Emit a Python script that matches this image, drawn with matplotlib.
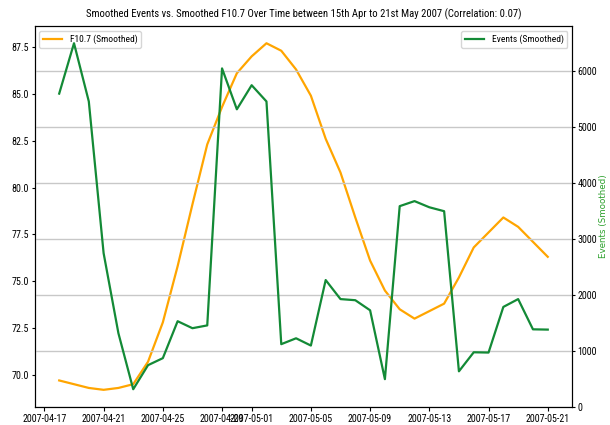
import pandas as pd
import numpy as np
import matplotlib.pyplot as plt
from matplotlib import font_manager

# the reference text is horizontally narrow, use a narrow face if one is installed
installed = {f.name for f in font_manager.fontManager.ttflist}
narrow = [n for n in ["Liberation Sans Narrow", "DejaVu Sans Condensed", "Roboto Condensed",
                      "Open Sans Condensed"] if n in installed]
if narrow:
    plt.rcParams['font.family'] = [narrow[0], 'DejaVu Sans']
    fs_title, fs_tick, fs_leg = 7.7, 7.2, 6.8
else:
    plt.rcParams['font.family'] = ['DejaVu Sans']
    fs_title, fs_tick, fs_leg = 6.0, 5.6, 5.4

# daily dates of the smoothed series
dates = pd.date_range("2007-04-18", "2007-05-21", freq="D")

f107_smoothed = [69.7, 69.5, 69.3, 69.2, 69.3, 69.5, 70.7, 72.8, 75.8, 79.1,
                 82.3, 84.3, 86.1, 87.0, 87.7, 87.3, 86.3, 84.9, 82.6, 80.8,
                 78.4, 76.1, 74.5, 73.5, 73.0, 73.4, 73.8, 75.2, 76.8, 77.6,
                 78.4, 77.9, 77.1, 76.3]

events_smoothed = [5600, 6500, 5460, 2750, 1320, 320, 750, 875, 1535, 1410,
                   1460, 6050, 5320, 5750, 5460, 1125, 1230, 1100, 2270, 1930,
                   1910, 1730, 500, 3590, 3680, 3570, 3500, 640, 980, 975,
                   1790, 1930, 1390, 1385]

fig, ax1 = plt.subplots(figsize=(6.1, 4.25), dpi=100)
ax1.plot(dates, f107_smoothed, color="orange", linewidth=1.6, label="F10.7 (Smoothed)")
ax1.tick_params(labelsize=fs_tick)
ax1.tick_params(axis="x", pad=2, length=3)
ax1.tick_params(axis="y", pad=1.5, length=2.5)
ax1.legend(loc="upper left", fontsize=fs_leg)

ax2 = ax1.twinx()
ax2.plot(dates, events_smoothed, color="#138a36", linewidth=1.6, label="Events (Smoothed)")
ax2.set_ylim(bottom=0)
ax2.set_ylabel("Events (Smoothed)", color="#2ca02c", fontsize=6.3, family="DejaVu Sans", labelpad=1)
ax2.tick_params(labelsize=fs_tick, pad=1.5, length=2.5)
ax2.yaxis.grid(True, color="#c8c8c8", linewidth=1)
ax2.legend(loc="upper right", fontsize=fs_leg)

ax1.set_title("Smoothed Events vs. Smoothed F10.7 Over Time between 15th Apr to 21st May 2007 (Correlation: 0.07)",
              fontsize=fs_title)

plt.subplots_adjust(left=0.057, right=0.938, top=0.939, bottom=0.042)
plt.savefig("out.png")
